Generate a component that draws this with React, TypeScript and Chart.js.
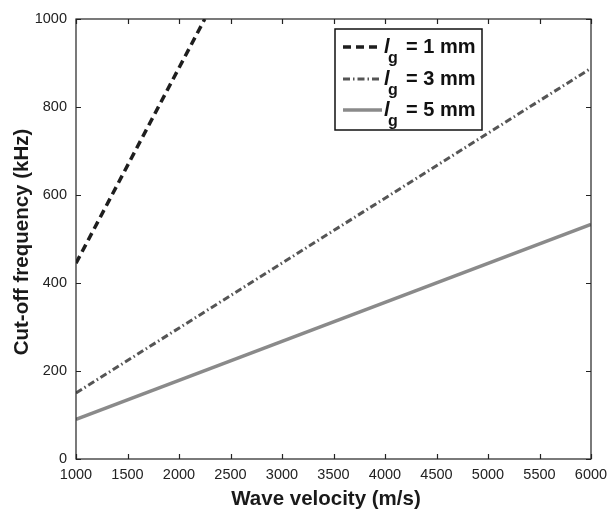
import React, { useEffect, useRef } from "react";
import { Chart, registerables } from "chart.js";

Chart.register(...registerables);

const velocity1mm = [1000, 2250];
const freq1mm = [445, 1000];
const velocity3mm = [1000, 6000];
const freq3mm = [150, 888];
const velocity5mm = [1000, 6000];
const freq5mm = [90, 533];

const xTitle = "Wave velocity (m/s)";
const yTitle = "Cut-off frequency (kHz)";
const legendValues = ["1 mm", "3 mm", "5 mm"];

const FONT = "'Liberation Sans', Arial, Helvetica, sans-serif";

const framePlugin = {
  id: "frame",
  afterDatasetsDraw(chart: any) {
    const { ctx, chartArea, scales } = chart;
    const { left, right, top, bottom } = chartArea;
    ctx.save();
    ctx.strokeStyle = "#222";
    ctx.lineWidth = 1.2;
    ctx.strokeRect(left, top, right - left, bottom - top);
    const t = 5;
    ctx.beginPath();
    scales.x.ticks.forEach((tk: any) => {
      const px = Math.round(scales.x.getPixelForValue(tk.value)) + 0.5;
      ctx.moveTo(px, bottom);
      ctx.lineTo(px, bottom - t);
      ctx.moveTo(px, top);
      ctx.lineTo(px, top + t);
    });
    scales.y.ticks.forEach((tk: any) => {
      const py = Math.round(scales.y.getPixelForValue(tk.value)) + 0.5;
      ctx.moveTo(left, py);
      ctx.lineTo(left + t, py);
      ctx.moveTo(right, py);
      ctx.lineTo(right - t, py);
    });
    ctx.stroke();

    // titles
    ctx.fillStyle = "#1a1a1a";
    ctx.font = `bold 20.5px ${FONT}`;
    ctx.textAlign = "center";
    ctx.textBaseline = "middle";
    ctx.fillText(xTitle, 326, 499);
    ctx.save();
    ctx.translate(22, 242);
    ctx.rotate(-Math.PI / 2);
    ctx.fillText(yTitle, 0, 0);
    ctx.restore();

    // legend
    const bx = 335, by = 29, bw = 147, bh = 101;
    ctx.fillStyle = "#fff";
    ctx.fillRect(bx, by, bw, bh);
    ctx.strokeStyle = "#111";
    ctx.lineWidth = 1.5;
    ctx.strokeRect(bx, by, bw, bh);
    const rows = [47, 79, 110];
    chart.data.datasets.forEach((ds: any, i: number) => {
      const y = rows[i];
      ctx.save();
      ctx.strokeStyle = ds.borderColor;
      ctx.lineWidth = ds.borderWidth;
      ctx.setLineDash(ds.borderDash || []);
      ctx.beginPath();
      ctx.moveTo(343, y);
      ctx.lineTo(382, y);
      ctx.stroke();
      ctx.restore();
      ctx.fillStyle = "#111";
      ctx.textAlign = "left";
      ctx.textBaseline = "middle";
      ctx.font = `bold italic 20px ${FONT}`;
      ctx.fillText("l", 384, y);
      ctx.font = `bold 16px ${FONT}`;
      ctx.fillText("g", 388, y + 12);
      ctx.font = `bold 20px ${FONT}`;
      ctx.fillText("= " + legendValues[i], 406, y);
    });
    ctx.restore();
  },
};

export default function App() {
  const ref = useRef<HTMLCanvasElement>(null);
  useEffect(() => {
    document.body.style.margin = "0";
    const chart = new Chart(ref.current!, {
      type: "line",
      data: {
        datasets: [
          {
            label: "lg = 1 mm",
            data: velocity1mm.map((v, i) => ({ x: v, y: freq1mm[i] })),
            borderColor: "#1e1e1e",
            borderWidth: 3.5,
            borderDash: [8, 5],
            pointRadius: 0,
            fill: false,
          },
          {
            label: "lg = 3 mm",
            data: velocity3mm.map((v, i) => ({ x: v, y: freq3mm[i] })),
            borderColor: "#555",
            borderWidth: 3,
            borderDash: [7, 3, 1.5, 3],
            pointRadius: 0,
            fill: false,
          },
          {
            label: "lg = 5 mm",
            data: velocity5mm.map((v, i) => ({ x: v, y: freq5mm[i] })),
            borderColor: "#8a8a8a",
            borderWidth: 3.5,
            pointRadius: 0,
            fill: false,
          },
        ],
      },
      options: {
        responsive: false,
        animation: false,
        layout: { padding: { top: 19, right: 18, left: 0, bottom: 0 } },
        plugins: { legend: { display: false }, tooltip: { enabled: false } },
        scales: {
          x: {
            type: "linear",
            min: 1000,
            max: 6000,
            grid: { display: false, drawTicks: false },
            border: { display: false },
            ticks: {
              stepSize: 500,
              maxRotation: 0,
              autoSkip: false,
              padding: 7,
              color: "#222",
              font: { family: FONT, size: 14.5 },
              callback: (v: any) => String(v),
            },
            afterFit: (s: any) => {
              s.height = 51;
              s.paddingRight = 0;
              s.paddingLeft = 0;
            },
          },
          y: {
            min: 0,
            max: 1000,
            grid: { display: false, drawTicks: false },
            border: { display: false },
            ticks: {
              stepSize: 200,
              padding: 9,
              color: "#222",
              font: { family: FONT, size: 14.5 },
              callback: (v: any) => String(v),
            },
            afterFit: (s: any) => {
              s.width = 76;
              s.paddingTop = 0;
              s.paddingBottom = 0;
            },
          },
        },
      },
      plugins: [framePlugin],
    });
    return () => chart.destroy();
  }, []);
  return (
    <div style={{ width: 609, height: 510 }}>
      <canvas ref={ref} width={609} height={510} />
    </div>
  );
}
